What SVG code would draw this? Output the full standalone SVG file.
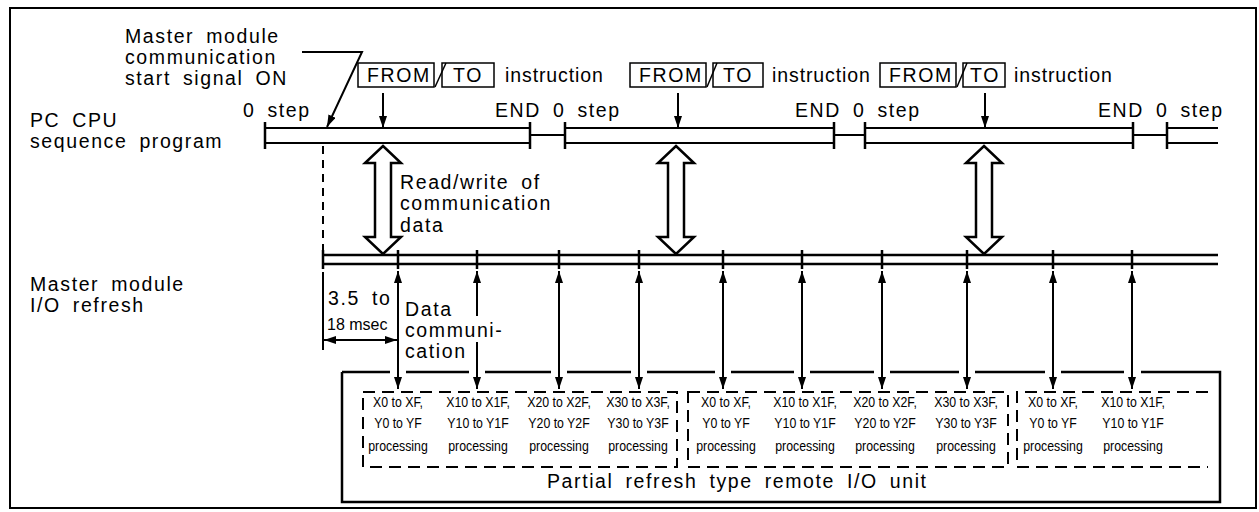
<svg xmlns="http://www.w3.org/2000/svg" width="1259" height="512" viewBox="0 0 1259 512">
  <style>
    text { font-family: "Liberation Sans", Arial, sans-serif; fill: #000; }
    .t { font-size: 19.5px; letter-spacing: 1.6px; word-spacing: 5px; }
    .i { letter-spacing: 0.9px; }
    .s { font-size: 16px; }
    .p { font-size: 14px; text-anchor: middle; }
    .ln { stroke: #000; stroke-width: 2; fill: none; }
    .thick { stroke: #000; stroke-width: 2.5; fill: none; }
    .box { stroke: #000; stroke-width: 1.5; fill: none; }
    .dash { stroke: #000; stroke-width: 2; fill: none; stroke-dasharray: 12 7; }
    .hollow { fill: #fff; stroke: #000; stroke-width: 2.5; stroke-linejoin: miter; }
    .arr { stroke: #000; stroke-width: 2; fill: none; marker-end: url(#ah); }
    .arr2 { stroke: #000; stroke-width: 2; fill: none; marker-start: url(#ah); marker-end: url(#ah); }
  </style>
  <defs>
    <marker id="ah" viewBox="0 0 12 8" refX="12" refY="4" markerWidth="12" markerHeight="8" markerUnits="userSpaceOnUse" orient="auto-start-reverse">
      <path d="M0,0 L12,4 L0,8 Z" fill="#000"/>
    </marker>
  </defs>

  <!-- outer frame -->
  <rect id="frame" x="10" y="8" width="1246" height="500" fill="#fff" stroke="#000" stroke-width="2"/>

  <!-- row labels -->
  <g id="label-cpu">
    <text class="t" x="30" y="127">PC CPU</text>
    <text class="t" x="30" y="148">sequence program</text>
  </g>
  <g id="label-io">
    <text class="t" x="30" y="291">Master module</text>
    <text class="t" x="30" y="312">I/O refresh</text>
  </g>

  <!-- start signal note -->
  <g id="start-signal">
    <text class="t" x="125" y="43">Master module</text>
    <text class="t" x="125" y="64">communication</text>
    <text class="t" x="125" y="85">start signal ON</text>
  </g>

  <!-- FROM/TO instruction labels -->
  <g id="fromto-1">
    <rect class="box" x="358" y="63" width="76" height="24"/>
    <text class="t" x="367" y="82">FROM</text>
    <rect class="box" x="442" y="63" width="52" height="24"/>
    <line class="box" x1="435" y1="87" x2="446" y2="63"/>
    <text class="t" x="453" y="82">TO</text>
    <text class="t i" x="505" y="82">instruction</text>
  </g>
  <g id="fromto-2">
    <rect class="box" x="630" y="63" width="76" height="24"/>
    <text class="t" x="639" y="82">FROM</text>
    <rect class="box" x="713" y="63" width="50" height="24"/>
    <line class="box" x1="707" y1="87" x2="717" y2="63"/>
    <text class="t" x="723" y="82">TO</text>
    <text class="t i" x="772" y="82">instruction</text>
  </g>
  <g id="fromto-3">
    <rect class="box" x="880" y="63" width="76" height="24"/>
    <text class="t" x="889" y="82">FROM</text>
    <rect class="box" x="963" y="63" width="42" height="24"/>
    <line class="box" x1="957" y1="87" x2="967" y2="63"/>
    <text class="t" x="970" y="82">TO</text>
    <text class="t i" x="1014" y="82">instruction</text>
  </g>

  <!-- step labels -->
  <g id="step-labels">
    <text class="t" x="243" y="117">0 step</text>
    <text class="t" x="495" y="117">END 0 step</text>
    <text class="t" x="795" y="117">END 0 step</text>
    <text class="t" x="1098" y="117">END 0 step</text>
  </g>

  <!-- sequence program scans -->
  <g id="scans">
    <path class="ln" d="M265,128 H530 M265,143 H530 M565,128 H834 M565,143 H834 M865,128 H1133 M865,143 H1133 M1167,128 H1218 M1167,143 H1218"/>
    <path class="ln" d="M530,135 H565 M834,135 H865 M1133,135 H1167"/>
    <path class="thick" d="M265,122 V149 M530,122 V149 M565,122 V149 M834,122 V149 M865,122 V149 M1133,122 V149 M1167,122 V149"/>
  </g>

  <!-- I/O refresh line -->
  <g id="io-refresh">
    <path class="thick" d="M323,255 H1218 M323,264 H1218"/>
    <path class="thick" d="M323,250 V269 M398,250 V269 M477,250 V269 M559,250 V269 M639,250 V269 M723,250 V269 M802,250 V269 M882,250 V269 M967,250 V269 M1053,250 V269 M1132,250 V269"/>
  </g>

  <!-- read/write note -->
  <g id="rw-note">
    <text class="t" x="400" y="189">Read/write of</text>
    <text class="t" x="400" y="210">communication</text>
    <text class="t" x="400" y="232">data</text>
  </g>

  <!-- cycle time -->
  <g id="cycle">
    <text class="t" x="328" y="305">3.5 to</text>
    <text class="s" x="327" y="330">18 msec</text>
  </g>

  <g id="data-note">
    <text class="t" x="405" y="316">Data</text>
    <text class="t" x="405" y="337">communi-</text>
    <text class="t" x="405" y="358">cation</text>
  </g>

  <!-- remote I/O unit -->
  <g id="remote-unit">
    <path class="thick" d="M342,372 V502 H1220 V372 H1141 M1124,372 H1061 M1045,372 H975 M959,372 H890 M874,372 H810 M794,372 H731 M715,372 H647 M631,372 H567 M551,372 H485 M469,372 H406 M390,372 H342"/>
    <rect class="dash" x="363" y="392" width="314" height="75"/>
    <rect class="dash" x="688" y="392" width="320" height="75"/>
    <path class="dash" d="M1208,392 H1017 V467 H1208"/>
    <text class="t" x="547" y="488">Partial refresh type remote I/O unit</text>
  </g>

  <g id="proc-1">
    <g transform="matrix(0.88 0 0 1 398 0)"><text class="p" y="407">X0 to XF,</text><text class="p" y="428">Y0 to YF</text><text class="p" y="451">processing</text></g>
    <g transform="matrix(0.88 0 0 1 478 0)"><text class="p" y="407">X10 to X1F,</text><text class="p" y="428">Y10 to Y1F</text><text class="p" y="451">processing</text></g>
    <g transform="matrix(0.88 0 0 1 559 0)"><text class="p" y="407">X20 to X2F,</text><text class="p" y="428">Y20 to Y2F</text><text class="p" y="451">processing</text></g>
    <g transform="matrix(0.88 0 0 1 638 0)"><text class="p" y="407">X30 to X3F,</text><text class="p" y="428">Y30 to Y3F</text><text class="p" y="451">processing</text></g>
  </g>
  <g id="proc-2">
    <g transform="matrix(0.88 0 0 1 726 0)"><text class="p" y="407">X0 to XF,</text><text class="p" y="428">Y0 to YF</text><text class="p" y="451">processing</text></g>
    <g transform="matrix(0.88 0 0 1 805 0)"><text class="p" y="407">X10 to X1F,</text><text class="p" y="428">Y10 to Y1F</text><text class="p" y="451">processing</text></g>
    <g transform="matrix(0.88 0 0 1 885 0)"><text class="p" y="407">X20 to X2F,</text><text class="p" y="428">Y20 to Y2F</text><text class="p" y="451">processing</text></g>
    <g transform="matrix(0.88 0 0 1 966 0)"><text class="p" y="407">X30 to X3F,</text><text class="p" y="428">Y30 to Y3F</text><text class="p" y="451">processing</text></g>
  </g>
  <g id="proc-3">
    <g transform="matrix(0.88 0 0 1 1053 0)"><text class="p" y="407">X0 to XF,</text><text class="p" y="428">Y0 to YF</text><text class="p" y="451">processing</text></g>
    <g transform="matrix(0.88 0 0 1 1133 0)"><text class="p" y="407">X10 to X1F,</text><text class="p" y="428">Y10 to Y1F</text><text class="p" y="451">processing</text></g>
  </g>

  <!-- connectors -->
  <g id="connectors">
    <!-- start signal pointer -->
    <polyline class="arr" points="302,52 362,52 327,127"/>
    <!-- FROM/TO execution points -->
    <line class="arr" x1="383" y1="93" x2="383" y2="128"/>
    <line class="arr" x1="678" y1="93" x2="678" y2="128"/>
    <line class="arr" x1="985" y1="93" x2="985" y2="128"/>
    <!-- start of refresh -->
    <line x1="323" y1="146" x2="323" y2="252" stroke="#000" stroke-width="2" stroke-dasharray="8 6"/>
    <!-- read/write transfers -->
    <path class="hollow" d="M383,146 L401,163 L391,163 L391,237 L401,237 L383,254 L365,237 L375,237 L375,163 L365,163 Z"/>
    <path class="hollow" d="M676,146 L694,163 L684,163 L684,237 L694,237 L676,254 L658,237 L668,237 L668,163 L658,163 Z"/>
    <path class="hollow" d="M984,146 L1002,163 L992,163 L992,237 L1002,237 L984,254 L966,237 L976,237 L976,163 L966,163 Z"/>
    <!-- cycle dimension -->
    <line class="ln" x1="323" y1="272" x2="323" y2="350"/>
    <line class="arr2" x1="324" y1="340" x2="397" y2="340"/>
    <!-- data communication -->
    <line class="arr2" x1="398" y1="271" x2="398" y2="389"/>
    <line x1="477" y1="271" x2="477" y2="316" stroke="#000" stroke-width="2" marker-start="url(#ah)"/>
    <line class="arr" x1="477" y1="342" x2="477" y2="389"/>
    <line class="arr2" x1="559" y1="271" x2="559" y2="389"/>
    <line class="arr2" x1="639" y1="271" x2="639" y2="389"/>
    <line class="arr2" x1="723" y1="271" x2="723" y2="389"/>
    <line class="arr2" x1="802" y1="271" x2="802" y2="389"/>
    <line class="arr2" x1="882" y1="271" x2="882" y2="389"/>
    <line class="arr2" x1="967" y1="271" x2="967" y2="389"/>
    <line class="arr2" x1="1053" y1="271" x2="1053" y2="389"/>
    <line class="arr2" x1="1132" y1="271" x2="1132" y2="389"/>
  </g>
</svg>
